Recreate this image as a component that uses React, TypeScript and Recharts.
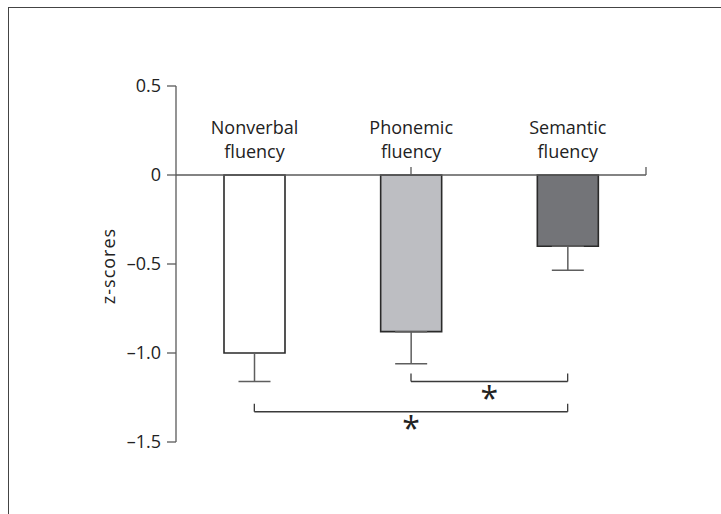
import { BarChart, Bar, XAxis, YAxis, Cell, ErrorBar, ReferenceLine, LabelList } from 'recharts';

const categories = ['Nonverbal fluency', 'Phonemic fluency', 'Semantic fluency'];
const meanScores = [-1.0, -0.88, -0.4];
const semErrors = [0.16, 0.18, 0.135];
const barColors = ['#ffffff', '#bdbec2', '#737478'];
const yTicks = [-1.5, -1.0, -0.5, 0, 0.5];
const categoryEdges = [1, 2, 3];

// significance brackets (pairwise comparisons)
const comparisons = [
  { from: 'Phonemic fluency', to: 'Semantic fluency', y: -1.16, mark: '*' },
  { from: 'Nonverbal fluency', to: 'Semantic fluency', y: -1.33, mark: '*' },
];
const bracketLeg = 0.045;

const data = categories.map((name, i) => ({
  name,
  score: meanScores[i],
  err: [semErrors[i], 0],
}));

const FONT = "'Open Sans', sans-serif";
const TEXT = '#222';
const AXIS = '#5a5a5a';

const formatTick = (v: number) => {
  if (v === 0) return '0';
  return (v < 0 ? '\u2013' : '') + Math.abs(v).toFixed(1);
};

const CategoryLabel = (props: any) => {
  const { x, y, width, height, value } = props;
  const top = Math.min(y, y + height);
  const cx = x + width / 2;
  const [first, ...rest] = String(value).split(' ');
  return (
    <text x={cx} y={top - 41.5} textAnchor="middle" fontSize={18} fill={TEXT} fontFamily={FONT}>
      <tspan x={cx}>{first}</tspan>
      <tspan x={cx} dy={24.5}>
        {rest.join(' ')}
      </tspan>
    </text>
  );
};

const YLabel = (props: any) => {
  const { viewBox } = props;
  const cx = viewBox.x + 8;
  const cy = viewBox.y + viewBox.height / 2 + 2;
  return (
    <text
      x={cx}
      y={cy}
      transform={`rotate(-90, ${cx}, ${cy})`}
      textAnchor="middle"
      dominantBaseline="central"
      fontSize={18}
      letterSpacing={1}
      fill={TEXT}
      fontFamily={FONT}
    >
      z-scores
    </text>
  );
};

export default function App() {
  return (
    <div style={{ position: 'fixed', left: 0, top: 0, width: 721, height: 514, overflow: 'hidden', background: '#fff' }}>
      <div
        style={{
          position: 'absolute',
          left: 8,
          top: 7,
          width: 800,
          height: 600,
          border: '1.5px solid #444',
        }}
      />
      <div style={{ position: 'absolute', left: 0, top: 0 }}>
        <BarChart
          width={721}
          height={514}
          data={data}
          margin={{ top: 86, right: 75, bottom: 72, left: 100 }}
          style={{ fontFamily: FONT }}
        >
          <XAxis dataKey="name" hide />
          <XAxis xAxisId="edges" type="number" domain={[0, 3]} hide />
          <YAxis
            type="number"
            domain={[-1.5, 0.5]}
            ticks={yTicks}
            width={76}
            tickFormatter={formatTick}
            tickSize={9}
            tickMargin={6}
            axisLine={{ stroke: AXIS, strokeWidth: 1.3 }}
            tickLine={{ stroke: AXIS, strokeWidth: 1.3 }}
            tick={{ fill: TEXT, fontSize: 18, fontFamily: FONT }}
            label={<YLabel />}
          />
          <ReferenceLine y={0} stroke={AXIS} strokeWidth={1.3} />
          {categoryEdges.map((e) => (
            <ReferenceLine
              key={`edge-${e}`}
              xAxisId="edges"
              segment={[{ x: e, y: 0 }, { x: e, y: bracketLeg }]}
              stroke={AXIS}
              strokeWidth={1.3}
            />
          ))}
          <Bar dataKey="score" barSize={61} stroke="#2a2a2a" strokeWidth={1.6} isAnimationActive={false}>
            {data.map((d, i) => (
              <Cell key={d.name} fill={barColors[i]} />
            ))}
            <ErrorBar dataKey="err" width={16} stroke="#5e5e5e" strokeWidth={1.5} direction="y" />
            <LabelList dataKey="name" content={<CategoryLabel />} />
          </Bar>
          {comparisons.map((c, i) => (
            <ReferenceLine
              key={`cmp-${i}`}
              segment={[{ x: c.from, y: c.y }, { x: c.to, y: c.y }]}
              stroke="#3a3a3a"
              strokeWidth={1.3}
              label={{ value: c.mark, position: 'bottom', offset: 6, fontSize: 32, fill: TEXT, fontFamily: FONT }}
            />
          ))}
          {comparisons.map((c, i) => (
            <ReferenceLine
              key={`cmp-l-${i}`}
              segment={[{ x: c.from, y: c.y }, { x: c.from, y: c.y + bracketLeg }]}
              stroke="#3a3a3a"
              strokeWidth={1.3}
            />
          ))}
          {comparisons.map((c, i) => (
            <ReferenceLine
              key={`cmp-r-${i}`}
              segment={[{ x: c.to, y: c.y }, { x: c.to, y: c.y + bracketLeg }]}
              stroke="#3a3a3a"
              strokeWidth={1.3}
            />
          ))}
        </BarChart>
      </div>
    </div>
  );
}
